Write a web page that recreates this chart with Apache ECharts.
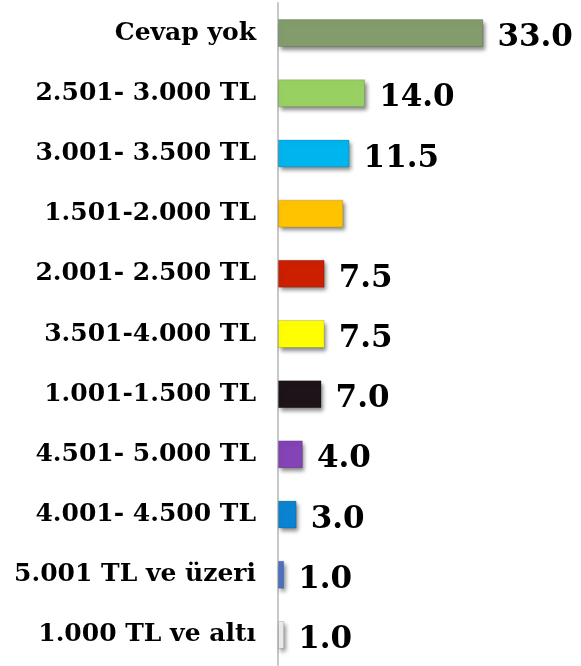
<!DOCTYPE html>
<html>
<head>
<meta charset="utf-8">
<script src="https://cdn.jsdelivr.net/npm/echarts@6/dist/echarts.min.js"></script>
<style>
  html, body { margin: 0; padding: 0; background: #fff; }
  #chart { width: 581px; height: 666px; }
</style>
</head>
<body>
<div id="chart"></div>
<script>
// gelir grupları (yukarıdan aşağıya)
var categories = [
  'Cevap yok', '2.501- 3.000 TL', '3.001- 3.500 TL', '1.501-2.000 TL',
  '2.001- 2.500 TL', '3.501-4.000 TL', '1.001-1.500 TL', '4.501- 5.000 TL',
  '4.001- 4.500 TL', '5.001 TL ve üzeri', '1.000 TL ve altı'
];
var values = [33.0, 14.0, 11.5, 10.5, 7.5, 7.5, 7.0, 4.0, 3.0, 1.0, 1.0];
var barColors = [
  '#829c6b', '#98d161', '#00b4ee', '#ffc300', '#cc1f00', '#ffff00',
  '#1c1419', '#8443b6', '#0a84d2', '#4a72c6', '#ececec'
];
// etiketi görünmeyen kategori
var noLabel = ['1.501-2.000 TL'];

var chart = echarts.init(document.getElementById('chart'));

var data = values.map(function (v, i) {
  return {
    value: v,
    itemStyle: { color: barColors[i] },
    label: { show: noLabel.indexOf(categories[i]) < 0 }
  };
});

chart.setOption({
  animation: false,
  grid: { left: 278, right: 54, top: 3, bottom: 1 },
  xAxis: {
    type: 'value', min: 0, max: 40, show: false
  },
  yAxis: {
    type: 'category',
    data: categories,
    inverse: true,
    axisLine: { show: true, lineStyle: { color: '#c8c8c8', width: 2 } },
    axisTick: { show: false },
    axisLabel: {
      margin: 22,
      color: '#000',
      fontFamily: 'DejaVu Serif',
      fontWeight: 'bold',
      fontSize: 25,
      padding: [9, 0, 0, 0]
    }
  },
  series: [{
    type: 'bar',
    data: data,
    barWidth: 28,
    itemStyle: {
      borderColor: 'rgba(0,0,0,0.15)',
      borderWidth: 1,
      shadowColor: 'rgba(0,0,0,0.45)',
      shadowBlur: 4,
      shadowOffsetX: 2,
      shadowOffsetY: 3
    },
    label: {
      position: 'right',
      distance: 14,
      offset: [0, 5],
      formatter: function (p) { return p.value.toFixed(1); },
      color: '#000',
      fontFamily: 'DejaVu Serif',
      fontWeight: 'bold',
      fontSize: 31
    }
  }]
});
</script>
</body>
</html>
